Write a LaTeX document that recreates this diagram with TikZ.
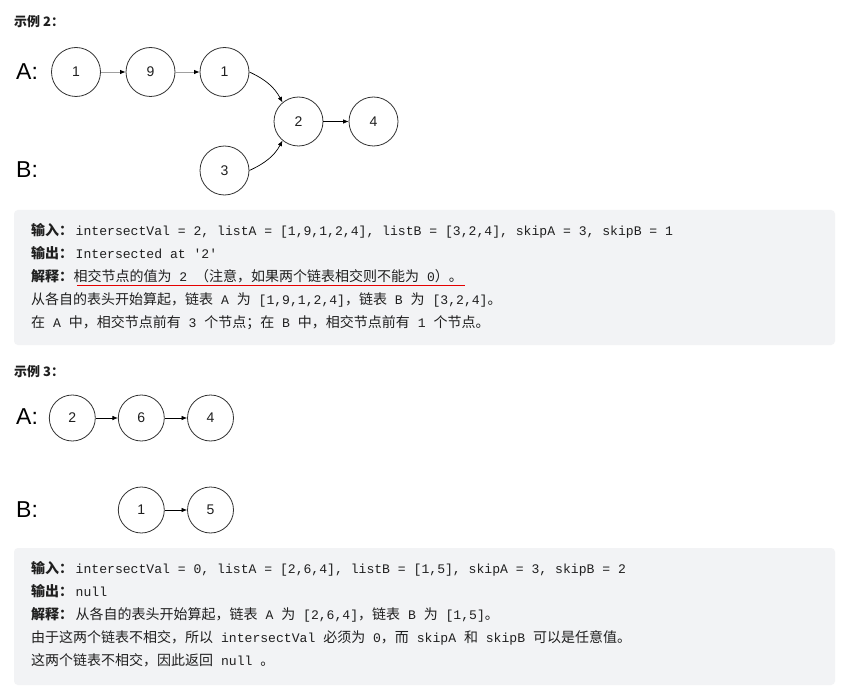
\documentclass[tikz,border=0pt]{standalone}
\usepackage{fontspec}
\setmonofont{Liberation Mono}
\newfontfamily\cjk{Noto Sans CJK SC}
\newfontfamily\lab{Liberation Sans}
\usetikzlibrary{arrows.meta}
\definecolor{boxbg}{HTML}{F2F3F5}
\definecolor{txt}{HTML}{1F1F1F}
\definecolor{ring}{HTML}{333333}
\definecolor{lgray}{HTML}{A0A0A0}
\newcommand\zh[1]{{\cjk\fontsize{14}{16}\selectfont #1}}
\newcommand\zb[1]{{\cjk\bfseries\fontsize{14}{16}\selectfont #1}\hspace{2.5pt}}
\tikzset{
  lnode/.style={circle, draw=ring, line width=0.8pt, inner sep=0pt, font=\lab\fontsize{14}{16}\selectfont, text=txt},
  bign/.style={lnode, minimum size=49pt},
  smalln/.style={lnode, minimum size=46pt},
  listlab/.style={anchor=west, inner sep=0pt, font=\lab\fontsize{23}{26}\selectfont, text=black},
  title/.style={anchor=base west, inner sep=0pt, font=\cjk\bfseries\fontsize{13}{15}\selectfont, text=txt},
  line/.style={anchor=base west, inner sep=0pt, font=\ttfamily\fontsize{13.1}{16}\selectfont, text=txt},
  codebox/.style={fill=boxbg, draw=none, rounded corners=4pt},
  arr/.style={-{Latex[length=5.5pt,width=4.5pt]}, line width=0.7pt, draw=black},
  garr/.style={-{Latex[length=5.5pt,width=4.5pt,color=black]}, line width=0.8pt, draw=lgray},
  underl/.style={fill=red!90!black, draw=none},
}
\begin{document}
\begin{tikzpicture}[x=1pt,y=1pt]
\useasboundingbox[fill=white] (0,0) rectangle (847,-690);

% ---------- Example 2 ----------
\node[title] (t2) at (14,-26.5) {示例 2：};
\node[listlab] (la2) at (16,-72) {A:};
\node[listlab] (lb2) at (16,-170) {B:};

\node[bign] (a1) at (76,-72) {1};
\node[bign] (a9) at (150.5,-72) {9};
\node[bign] (a1b) at (224.5,-72) {1};
\node[bign] (c2) at (298.5,-121.5) {2};
\node[bign] (c4) at (373.5,-121.5) {4};
\node[bign] (b3) at (224.5,-170.5) {3};

\draw[garr] (a1) -- (a9);
\draw[garr] (a9) -- (a1b);
\draw[arr] (a1b.east) to[out=-25,in=118] (c2.130);
\draw[arr] (b3.east) to[out=25,in=-118] (c2.230);
\draw[arr] (c2) -- (c4);

\path[codebox] (14,-210) rectangle (835,-345);
\node[line] (e2l1) at (31,-235.5) {\zb{输入：}intersectVal = 2, listA = [1,9,1,2,4], listB = [3,2,4], skipA = 3, skipB = 1};
\node[line] (e2l2) at (31,-258.5) {\zb{输出：}Intersected at '2'};
\node[line] (e2l3) at (31,-281.5) {\zb{解释：}};
\node[line] (ul) at (e2l3.base east) {\zh{相交节点的值为} 2 \zh{（注意，如果两个链表相交则不能为} 0\zh{）。}};
\path[underl] ([xshift=4pt,yshift=-3.4pt]ul.base west) rectangle ([xshift=2pt,yshift=-4.8pt]ul.base east);
\node[line] (e2l4) at (31,-304.5) {\zh{从各自的表头开始算起，链表} A \zh{为} [1,9,1,2,4]\zh{，链表} B \zh{为} [3,2,4]\zh{。}};
\node[line] (e2l5) at (31,-327.5) {\zh{在} A \zh{中，相交节点前有} 3 \zh{个节点；在} B \zh{中，相交节点前有} 1 \zh{个节点。}};

% ---------- Example 3 ----------
\node[title] (t3) at (14,-376) {示例 3：};
\node[listlab] (la3) at (16,-416.5) {A:};
\node[listlab] (lb3) at (16,-509.5) {B:};

\node[smalln] (p2) at (72.3,-418) {2};
\node[smalln] (p6) at (141.3,-418) {6};
\node[smalln] (p4) at (210.5,-418) {4};
\node[smalln] (q1) at (141.3,-510) {1};
\node[smalln] (q5) at (210.5,-510) {5};

\draw[arr] (p2) -- (p6);
\draw[arr] (p6) -- (p4);
\draw[arr] (q1) -- (q5);

\path[codebox] (14,-548) rectangle (835,-685);
\node[line] (e3l1) at (31,-573.5) {\zb{输入：}intersectVal = 0, listA = [2,6,4], listB = [1,5], skipA = 3, skipB = 2};
\node[line] (e3l2) at (31,-596.5) {\zb{输出：}null};
\node[line] (e3l3) at (31,-619.5) {\zb{解释：}\zh{从各自的表头开始算起，链表} A \zh{为} [2,6,4]\zh{，链表} B \zh{为} [1,5]\zh{。}};
\node[line] (e3l4) at (31,-642.5) {\zh{由于这两个链表不相交，所以} intersectVal \zh{必须为} 0\zh{，而} skipA \zh{和} skipB \zh{可以是任意值。}};
\node[line] (e3l5) at (31,-665.5) {\zh{这两个链表不相交，因此返回} null \zh{。}};
\end{tikzpicture}
\end{document}
